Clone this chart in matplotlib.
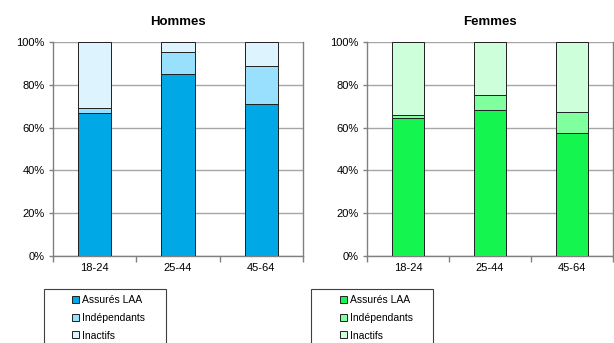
import matplotlib
matplotlib.use("Agg")
import matplotlib.pyplot as plt
from matplotlib.patches import Patch, Rectangle
from matplotlib.ticker import FuncFormatter

plt.rcParams["font.family"] = ["Liberation Sans", "DejaVu Sans"]

ages = ["18-24", "25-44", "45-64"]
series = ["Assurés LAA", "Indépendants", "Inactifs"]

# shares in percent, per age group
hommes_assures = [67.0, 85.0, 71.0]
hommes_indep = [2.0, 10.5, 18.0]
hommes_inactifs = [31.0, 4.5, 11.0]

femmes_assures = [64.3, 68.0, 57.5]
femmes_indep = [1.4, 7.2, 10.0]
femmes_inactifs = [34.3, 24.8, 32.5]

blues = ["#00A9E6", "#99E0FF", "#DDF4FF"]
greens = ["#14F550", "#80FF9F", "#CCFFDA"]

fig = plt.figure(figsize=(6.14, 3.43), dpi=100)
ax_h = fig.add_axes([0.0863, 0.2536, 0.4072, 0.6239])
ax_f = fig.add_axes([0.5977, 0.2536, 0.4007, 0.6239])

panels = [
    (ax_h, "Hommes", [hommes_assures, hommes_indep, hommes_inactifs], blues),
    (ax_f, "Femmes", [femmes_assures, femmes_indep, femmes_inactifs], greens),
]

x = list(range(len(ages)))
for ax, title, data, colors in panels:
    bottom = [0.0] * len(ages)
    for vals, col in zip(data, colors):
        ax.bar(x, vals, width=0.4, bottom=bottom, color=col,
               edgecolor="#202020", linewidth=0.7, zorder=3)
        bottom = [b + v for b, v in zip(bottom, vals)]
    ax.set_xlim(-0.5, 2.5)
    ax.set_ylim(0, 100)
    ax.set_yticks([0, 20, 40, 60, 80, 100])
    ax.yaxis.set_major_formatter(FuncFormatter(lambda v, p: f"{v:.0f}%"))
    ax.yaxis.grid(True, color="#A6A6A6", linewidth=1.0, zorder=0)
    ax.set_xticks(x)
    ax.set_xticklabels(ages)
    ax.set_xticks([-0.5, 0.5, 1.5, 2.5], minor=True)
    ax.tick_params(axis="x", which="major", length=0, pad=5, labelsize=8)
    ax.tick_params(axis="x", which="minor", length=4, color="#808080", width=1)
    ax.tick_params(axis="y", length=3, color="#808080", width=1, labelsize=8, pad=3)
    ax.spines["top"].set_visible(False)
    for s in ["left", "bottom", "right"]:
        ax.spines[s].set_color("#808080")
        ax.spines[s].set_linewidth(1.0)
    ax.set_title(title, fontsize=9.5, fontweight="bold", pad=12)

# legends below each panel, framed box running off the bottom edge
legend_specs = [(44, 72, blues), (311, 340, greens)]
for box_x, handle_x, colors in legend_specs:
    fig.patches.append(Rectangle((box_x / 614, -0.1), 122 / 614, 0.1 + 1 - 289 / 343,
                                 transform=fig.transFigure, fill=False,
                                 edgecolor="#404040", linewidth=0.8))
    handles = [Patch(facecolor=c, edgecolor="#202020", linewidth=0.7) for c in colors]
    fig.legend(handles, series, loc="upper left",
               bbox_to_anchor=(handle_x / 614, 1 - 295 / 343),
               frameon=False, fontsize=7.5, borderpad=0, borderaxespad=0,
               handlelength=0.65, handleheight=0.65, handletextpad=0.3,
               labelspacing=0.75)

fig.savefig("out.png", dpi=100)
